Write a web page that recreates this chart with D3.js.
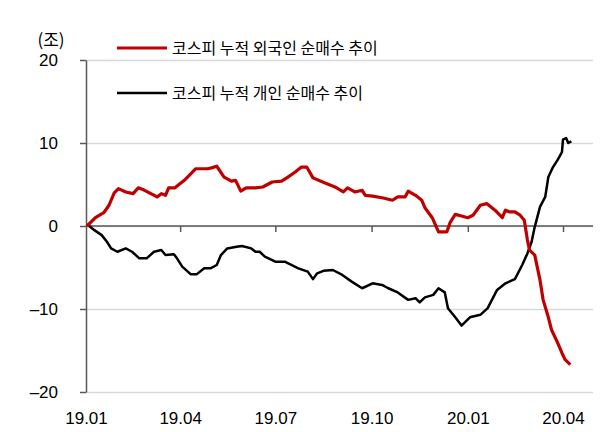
<!DOCTYPE html>
<html>
<head>
<meta charset="utf-8">
<script src="https://cdn.jsdelivr.net/npm/d3@7"></script>
<style>
  body { margin: 0; background: #fff; }
  svg { display: block; font-family: "Noto Sans CJK KR", "Noto Sans", sans-serif; }
</style>
</head>
<body>
<div id="chart"></div>
<script>
'use strict';

// 코스피 누적 외국인 순매수 (조)
var foreign = [
  ['2019-01-02', 0], ['2019-01-10', 1.0], ['2019-01-18', 1.6], ['2019-01-23', 2.5],
  ['2019-01-28', 4.0], ['2019-02-01', 4.5], ['2019-02-08', 4.1], ['2019-02-15', 3.9],
  ['2019-02-20', 4.6], ['2019-02-26', 4.3], ['2019-03-10', 3.5], ['2019-03-14', 3.9],
  ['2019-03-18', 3.7], ['2019-03-21', 4.6], ['2019-03-27', 4.6], ['2019-04-05', 5.5],
  ['2019-04-16', 6.9], ['2019-04-27', 6.9], ['2019-05-01', 7.0], ['2019-05-06', 7.2],
  ['2019-05-13', 5.9], ['2019-05-20', 5.4], ['2019-05-24', 5.5], ['2019-05-29', 4.2],
  ['2019-06-03', 4.6], ['2019-06-12', 4.6], ['2019-06-19', 4.7], ['2019-06-28', 5.3],
  ['2019-07-07', 5.4], ['2019-07-12', 5.8], ['2019-07-20', 6.5], ['2019-07-26', 7.1],
  ['2019-07-31', 7.1], ['2019-08-06', 5.8], ['2019-08-17', 5.2], ['2019-08-27', 4.7],
  ['2019-09-04', 4.1], ['2019-09-08', 4.6], ['2019-09-15', 4.1], ['2019-09-22', 4.3],
  ['2019-09-25', 3.7], ['2019-10-02', 3.6], ['2019-10-11', 3.4], ['2019-10-21', 3.1],
  ['2019-10-26', 3.5], ['2019-11-02', 3.5], ['2019-11-05', 4.2], ['2019-11-12', 3.7],
  ['2019-11-18', 3.1], ['2019-11-21', 2.2], ['2019-11-28', 1.0], ['2019-12-04', -0.7],
  ['2019-12-12', -0.7], ['2019-12-15', 0.4], ['2019-12-20', 1.4], ['2019-12-26', 1.2],
  ['2020-01-01', 1.0], ['2020-01-06', 1.3], ['2020-01-13', 2.5], ['2020-01-19', 2.7],
  ['2020-01-27', 1.9], ['2020-02-03', 1.0], ['2020-02-06', 1.9], ['2020-02-10', 1.7],
  ['2020-02-15', 1.7], ['2020-02-20', 1.3], ['2020-02-24', 0.7], ['2020-02-27', -1.7],
  ['2020-02-29', -2.9], ['2020-03-05', -3.5], ['2020-03-10', -6.5], ['2020-03-13', -8.9],
  ['2020-03-18', -11.0], ['2020-03-21', -12.5], ['2020-03-27', -14.1], ['2020-03-31', -15.3],
  ['2020-04-03', -16.1], ['2020-04-08', -16.7]
];

// 코스피 누적 개인 순매수 (조)
var individual = [
  ['2019-01-02', 0.2], ['2019-01-09', -0.5], ['2019-01-16', -1.1], ['2019-01-21', -1.9],
  ['2019-01-25', -2.7], ['2019-01-31', -3.1], ['2019-02-08', -2.7], ['2019-02-14', -3.1],
  ['2019-02-21', -3.9], ['2019-02-28', -3.9], ['2019-03-07', -3.1], ['2019-03-14', -2.9],
  ['2019-03-18', -3.5], ['2019-03-26', -3.4], ['2019-03-29', -3.9], ['2019-04-03', -4.9],
  ['2019-04-11', -5.8], ['2019-04-17', -5.8], ['2019-04-24', -5.1], ['2019-04-30', -5.1],
  ['2019-05-06', -4.7], ['2019-05-10', -3.5], ['2019-05-16', -2.7], ['2019-05-25', -2.5],
  ['2019-05-30', -2.4], ['2019-06-08', -2.7], ['2019-06-12', -3.1], ['2019-06-16', -3.1],
  ['2019-06-21', -3.7], ['2019-07-01', -4.3], ['2019-07-10', -4.3], ['2019-07-23', -5.1],
  ['2019-08-01', -5.5], ['2019-08-06', -6.4], ['2019-08-10', -5.7], ['2019-08-16', -5.4],
  ['2019-08-25', -5.3], ['2019-09-03', -5.9], ['2019-09-12', -6.7], ['2019-09-22', -7.5],
  ['2019-10-02', -6.9], ['2019-10-11', -7.1], ['2019-10-17', -7.5], ['2019-10-26', -8.0],
  ['2019-11-05', -8.9], ['2019-11-12', -8.7], ['2019-11-16', -9.2], ['2019-11-21', -8.6],
  ['2019-11-29', -8.3], ['2019-12-04', -7.5], ['2019-12-10', -8.0], ['2019-12-13', -9.9],
  ['2019-12-20', -11.0], ['2019-12-26', -12.0], ['2020-01-03', -11.0], ['2020-01-13', -10.7],
  ['2020-01-20', -9.9], ['2020-01-29', -7.7], ['2020-02-06', -6.9], ['2020-02-15', -6.4],
  ['2020-02-22', -4.7], ['2020-02-27', -3.3], ['2020-03-02', -1.9], ['2020-03-05', -0.1],
  ['2020-03-10', 2.3], ['2020-03-15', 3.5], ['2020-03-18', 5.9], ['2020-03-22', 7.0],
  ['2020-03-27', 8.0], ['2020-03-31', 8.9], ['2020-04-01', 10.4], ['2020-04-04', 10.6],
  ['2020-04-06', 10.0], ['2020-04-09', 10.2]
];

var xTickDates = ['2019-01-01', '2019-04-01', '2019-07-01', '2019-10-01', '2020-01-01', '2020-04-01'];
var xTickLabels = ['19.01', '19.04', '19.07', '19.10', '20.01', '20.04'];
var yTicks = [-20, -10, 0, 10, 20];
var seriesNames = ['코스피 누적 외국인 순매수 추이', '코스피 누적 개인 순매수 추이'];
var seriesColors = ['#c00000', '#000000'];

var parseDate = d3.timeParse('%Y-%m-%d');
var width = 606,
    height = 432;
var plotLeft = 86,
    plotRight = 593,
    plotTop = 60,
    plotBottom = 392;

var svg = d3.select('#chart').append('svg')
    .attr('width', width)
    .attr('height', height);

var x = d3.scaleTime()
    .domain([parseDate(xTickDates[0]), parseDate(xTickDates[xTickDates.length - 1])])
    .range([plotLeft, 563]);
var y = d3.scaleLinear()
    .domain([-20, 20])
    .range([plotBottom, plotTop]);

// gridlines
svg.append('g')
    .attr('transform', 'translate(' + plotLeft + ',0)')
    .call(d3.axisLeft(y).tickValues(yTicks).tickSize(-(plotRight - plotLeft)).tickFormat(''))
    .call(g => g.select('.domain').remove())
    .call(g => g.selectAll('line').attr('stroke', '#d9d9d9').attr('stroke-width', 1.5));

// y axis
svg.append('g')
    .attr('transform', 'translate(' + plotLeft + ',0)')
    .call(d3.axisLeft(y).tickValues(yTicks).tickSize(6).tickPadding(22).tickSizeOuter(0))
    .call(g => g.select('.domain').attr('stroke', '#595959').attr('stroke-width', 1.5))
    .call(g => g.selectAll('line').attr('stroke', '#595959').attr('stroke-width', 1.5))
    .call(g => g.selectAll('text')
        .attr('fill', '#000')
        .style('font-size', '17px')
        .text(d => d < 0 ? '\u2013' + Math.abs(d) : d));

svg.append('text')
    .attr('x', 51)
    .attr('y', 46)
    .attr('text-anchor', 'middle')
    .style('font-size', '17px')
    .text('(조)');

// zero line with quarter ticks
svg.append('g')
    .attr('transform', 'translate(0,' + y(0) + ')')
    .call(d3.axisBottom(x)
        .tickValues(xTickDates.slice(1).map(parseDate))
        .tickSize(6)
        .tickSizeOuter(0)
        .tickFormat(''))
    .call(g => g.select('.domain')
        .attr('d', 'M' + plotLeft + ',0H' + plotRight)
        .attr('stroke', '#595959').attr('stroke-width', 1.5))
    .call(g => g.selectAll('line').attr('stroke', '#595959').attr('stroke-width', 1.5));

// x labels
svg.append('g')
    .attr('transform', 'translate(0,' + plotBottom + ')')
    .call(d3.axisBottom(x)
        .tickValues(xTickDates.map(parseDate))
        .tickSize(0)
        .tickPadding(20)
        .tickFormat((d, i) => xTickLabels[i]))
    .call(g => g.select('.domain').remove())
    .call(g => g.selectAll('text').attr('fill', '#000').style('font-size', '17px'));

var line = d3.line()
    .x(d => x(parseDate(d[0])))
    .y(d => y(d[1]));

svg.append('path')
    .datum(individual)
    .attr('fill', 'none')
    .attr('stroke', seriesColors[1])
    .attr('stroke-width', 2.5)
    .attr('stroke-linejoin', 'round')
    .attr('d', line);

svg.append('path')
    .datum(foreign)
    .attr('fill', 'none')
    .attr('stroke', seriesColors[0])
    .attr('stroke-width', 3.2)
    .attr('stroke-linejoin', 'round')
    .attr('d', line);

// legend
var legend = svg.append('g')
    .selectAll('g')
    .data(seriesNames)
    .enter().append('g')
    .attr('transform', (d, i) => 'translate(117,' + (48 + i * 45) + ')');
legend.append('line')
    .attr('x1', 0)
    .attr('x2', 50)
    .attr('stroke', (d, i) => seriesColors[i])
    .attr('stroke-width', (d, i) => i === 0 ? 3 : 2.5);
legend.append('text')
    .attr('x', 55)
    .attr('dy', '0.35em')
    .style('font-size', '16px')
    .text(d => d);
</script>
</body>
</html>
